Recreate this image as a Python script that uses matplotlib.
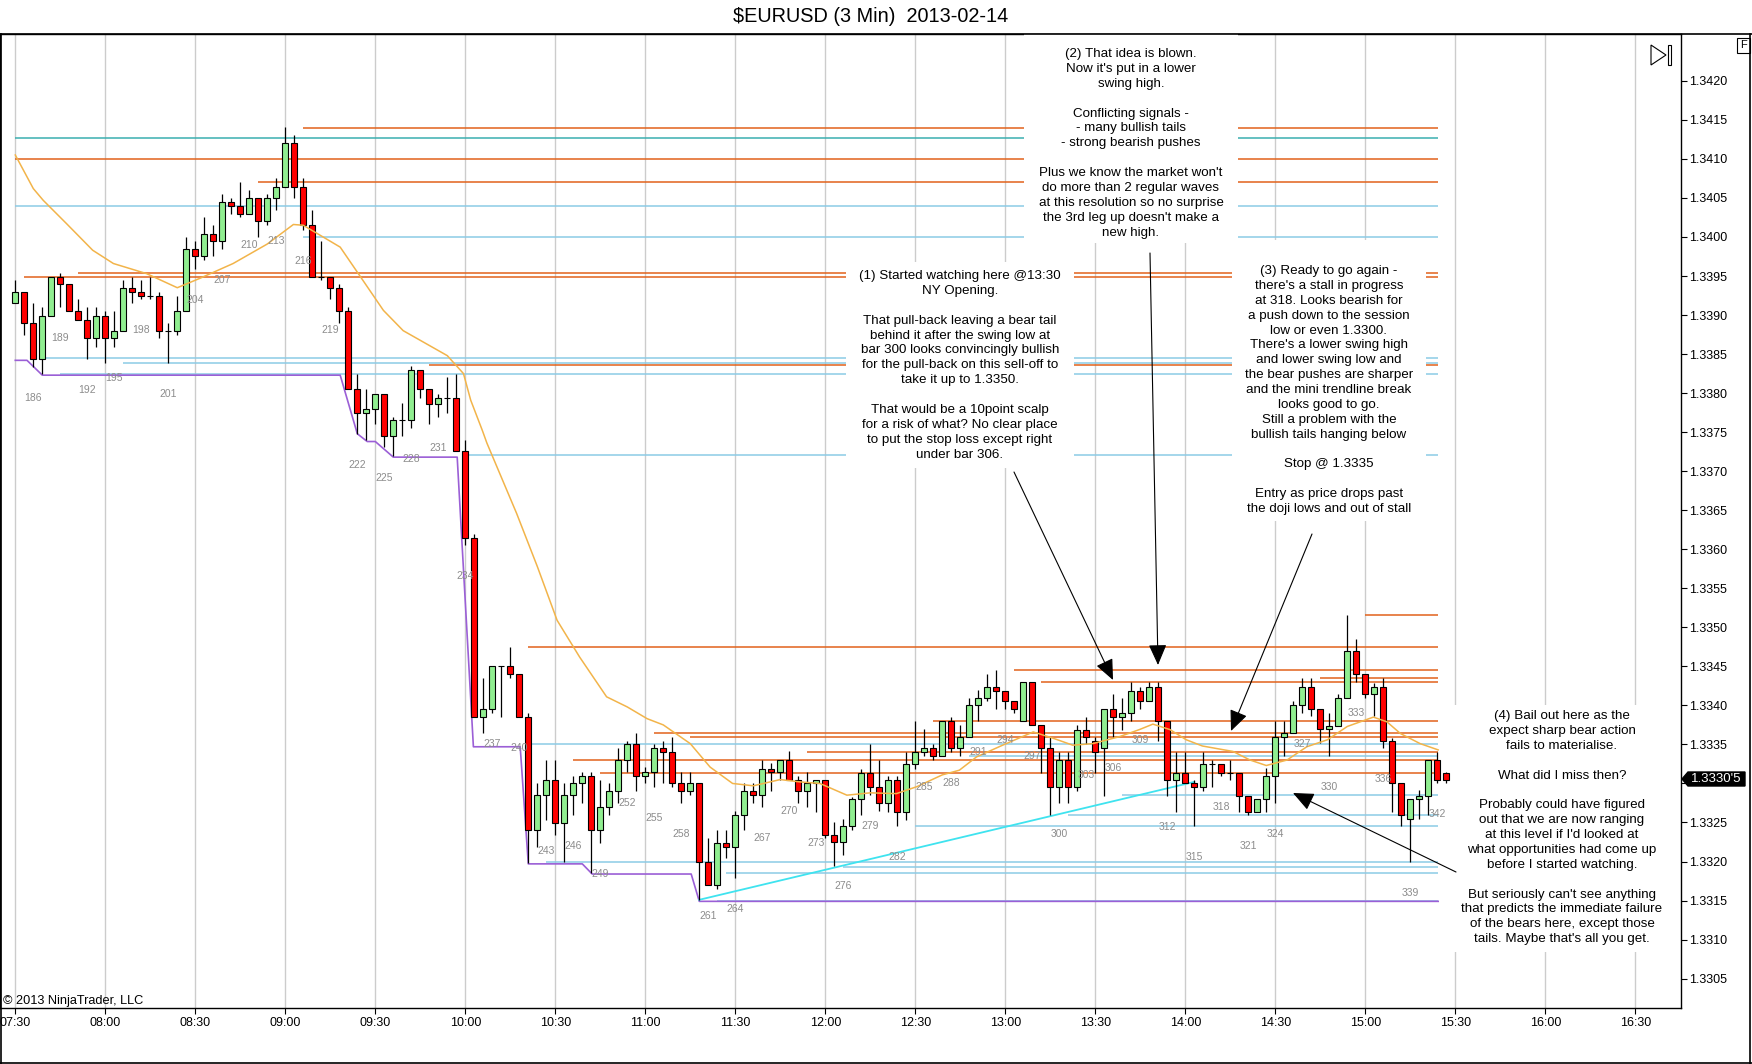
import matplotlib.pyplot as plt
import matplotlib.transforms as mtransforms
from matplotlib.lines import Line2D
from matplotlib.patches import Polygon, Rectangle

plt.rcParams["font.family"] = ["Liberation Sans", "DejaVu Sans"]

# ---- values ----
bar_no = list(range(184, 344))

opens = [
    1.33915, 1.3393, 1.3389, 1.33844, 1.33899, 1.33949, 1.3394, 1.33905, 1.33894, 1.3387,
    1.33899, 1.3387, 1.3388, 1.33935, 1.3393, 1.33924, 1.33924, 1.3388, 1.3388, 1.33905,
    1.33985, 1.33975, 1.34004, 1.33995, 1.34045, 1.3404, 1.3403, 1.3405, 1.3402, 1.3405,
    1.34064, 1.3412, 1.34064, 1.34015, 1.33949, 1.33949, 1.33935, 1.33905, 1.33805, 1.33775,
    1.3378, 1.33799, 1.33745, 1.33765, 1.33765, 1.3383, 1.33805, 1.33786, 1.33794, 1.33794,
    1.33726, 1.33615, 1.33385, 1.33395, 1.3345, 1.3345, 1.3344, 1.33385, 1.33241, 1.33285,
    1.33305, 1.33249, 1.33285, 1.333, 1.3331, 1.33241, 1.3327, 1.3329, 1.3333, 1.3335,
    1.3331, 1.33315, 1.33345, 1.3334, 1.333, 1.3329, 1.333, 1.33199, 1.3317, 1.33224,
    1.33219, 1.3326, 1.3329, 1.33285, 1.33319, 1.33315, 1.3333, 1.33304, 1.3329, 1.333,
    1.33304, 1.33234, 1.33225, 1.33245, 1.3328, 1.33314, 1.33295, 1.33275, 1.33305, 1.33264,
    1.33325, 1.3334, 1.33345, 1.33335, 1.3338, 1.33345, 1.33359, 1.334, 1.33409, 1.33424,
    1.33419, 1.33405, 1.3338, 1.3343, 1.33375, 1.33345, 1.33295, 1.3333, 1.33295, 1.33369,
    1.33354, 1.33345, 1.33395, 1.33385, 1.3339, 1.33419, 1.33405, 1.33424, 1.3338, 1.33304,
    1.33314, 1.333, 1.33295, 1.33325, 1.33325, 1.33314, 1.33314, 1.33284, 1.33264, 1.3328,
    1.3331, 1.33359, 1.33364, 1.334, 1.33424, 1.33395, 1.3337, 1.33374, 1.33409, 1.3347,
    1.3344, 1.33414, 1.33424, 1.33354, 1.333, 1.33254, 1.3328, 1.33284, 1.3333, 1.33313,
]
highs = [
    1.33945, 1.3393, 1.33915, 1.3391, 1.33949, 1.33954, 1.3394, 1.3392, 1.3391, 1.3391,
    1.33905, 1.33905, 1.33945, 1.33949, 1.33945, 1.33949, 1.3393, 1.3389, 1.33924, 1.3400,
    1.33995, 1.34025, 1.34015, 1.34055, 1.3405, 1.3407, 1.3406, 1.3405, 1.34055, 1.34075,
    1.34141, 1.3413, 1.34075, 1.34035, 1.33995, 1.33949, 1.3394, 1.3391, 1.33825, 1.33805,
    1.33799, 1.33799, 1.3377, 1.33787, 1.33835, 1.3383, 1.33805, 1.33799, 1.33821, 1.33825,
    1.3374, 1.3362, 1.33435, 1.3345, 1.3345, 1.33475, 1.3344, 1.3339, 1.333, 1.3333,
    1.3333, 1.333, 1.3331, 1.33315, 1.33315, 1.33305, 1.333, 1.33345, 1.33355, 1.33364,
    1.33321, 1.3335, 1.33355, 1.3336, 1.33315, 1.33315, 1.333, 1.3323, 1.33241, 1.33241,
    1.33265, 1.333, 1.333, 1.3333, 1.33326, 1.3333, 1.33341, 1.3331, 1.33315, 1.33304,
    1.33304, 1.3325, 1.33254, 1.33283, 1.33319, 1.33351, 1.3333, 1.3331, 1.3331, 1.3334,
    1.3338, 1.3337, 1.3335, 1.3338, 1.33385, 1.33375, 1.33409, 1.3342, 1.3344, 1.33445,
    1.33419, 1.33405, 1.3343, 1.3343, 1.33375, 1.33359, 1.3334, 1.3334, 1.33375, 1.33385,
    1.33359, 1.33395, 1.33415, 1.33409, 1.3343, 1.33424, 1.3343, 1.3343, 1.3338, 1.3334,
    1.3334, 1.33304, 1.3334, 1.3333, 1.33325, 1.3333, 1.33314, 1.33284, 1.3328, 1.3332,
    1.3338, 1.3338, 1.33405, 1.33435, 1.33435, 1.33395, 1.3339, 1.33414, 1.33516, 1.33485,
    1.3344, 1.33429, 1.33435, 1.33358, 1.333, 1.3328, 1.33291, 1.3333, 1.3334, 1.33315,
]
lows = [
    1.33915, 1.33874, 1.33834, 1.33825, 1.33899, 1.3391, 1.33905, 1.33894, 1.33844, 1.33859,
    1.33839, 1.33859, 1.3388, 1.33915, 1.3392, 1.3392, 1.3387, 1.33839, 1.33874, 1.33905,
    1.33959, 1.3397, 1.33975, 1.33985, 1.3403, 1.34025, 1.3403, 1.3400, 1.34015, 1.34035,
    1.34064, 1.3405, 1.34009, 1.33949, 1.33945, 1.3392, 1.3389, 1.33805, 1.33748, 1.3374,
    1.33761, 1.33731, 1.33719, 1.33745, 1.33755, 1.33794, 1.3376, 1.3377, 1.33775, 1.33726,
    1.33605, 1.33385, 1.33364, 1.3339, 1.33385, 1.33435, 1.33385, 1.33198, 1.33219, 1.33253,
    1.33234, 1.33199, 1.3326, 1.33275, 1.33185, 1.33224, 1.3326, 1.33275, 1.33315, 1.3329,
    1.333, 1.33295, 1.333, 1.33295, 1.33275, 1.33285, 1.33151, 1.3317, 1.33165, 1.33204,
    1.33179, 1.33241, 1.33275, 1.3327, 1.3329, 1.33304, 1.33304, 1.33275, 1.3327, 1.33264,
    1.3323, 1.33194, 1.33209, 1.33241, 1.33259, 1.33285, 1.33265, 1.33264, 1.33245, 1.33253,
    1.33319, 1.33335, 1.3333, 1.33335, 1.3334, 1.33335, 1.33359, 1.3338, 1.33405, 1.33395,
    1.33395, 1.3339, 1.3338, 1.33375, 1.33314, 1.33259, 1.33275, 1.33275, 1.3329, 1.3335,
    1.33314, 1.33284, 1.33359, 1.33369, 1.3338, 1.33395, 1.33405, 1.33354, 1.33284, 1.33264,
    1.333, 1.33245, 1.3329, 1.33295, 1.33309, 1.33304, 1.33264, 1.33259, 1.33264, 1.33264,
    1.33275, 1.33335, 1.33364, 1.3339, 1.33386, 1.33352, 1.33335, 1.33374, 1.33409, 1.3343,
    1.33409, 1.33386, 1.33345, 1.33264, 1.33245, 1.33199, 1.33254, 1.3326, 1.333, 1.333,
]
closes = [
    1.3393, 1.3389, 1.33844, 1.33899, 1.33949, 1.3394, 1.33905, 1.33894, 1.3387, 1.33899,
    1.3387, 1.3388, 1.33935, 1.3393, 1.33924, 1.33924, 1.3388, 1.3388, 1.33905, 1.33985,
    1.33975, 1.34004, 1.33995, 1.34045, 1.3404, 1.3403, 1.3405, 1.3402, 1.3405, 1.34064,
    1.3412, 1.34064, 1.34015, 1.33949, 1.33949, 1.33935, 1.33905, 1.33805, 1.33775, 1.3378,
    1.33799, 1.33745, 1.33765, 1.33765, 1.3383, 1.33805, 1.33786, 1.33794, 1.33794, 1.33726,
    1.33615, 1.33385, 1.33395, 1.3345, 1.3345, 1.3344, 1.33385, 1.33241, 1.33285, 1.33305,
    1.33249, 1.33285, 1.333, 1.3331, 1.33241, 1.3327, 1.3329, 1.3333, 1.3335, 1.3331,
    1.33315, 1.33345, 1.3334, 1.333, 1.3329, 1.333, 1.33199, 1.3317, 1.33224, 1.33219,
    1.3326, 1.3329, 1.33285, 1.33319, 1.33315, 1.3333, 1.33304, 1.3329, 1.333, 1.33304,
    1.33234, 1.33225, 1.33245, 1.3328, 1.33314, 1.33295, 1.33275, 1.33305, 1.33264, 1.33325,
    1.3334, 1.33345, 1.33335, 1.3338, 1.33345, 1.33359, 1.334, 1.33409, 1.33424, 1.33419,
    1.33405, 1.33395, 1.3343, 1.33375, 1.33345, 1.33295, 1.3333, 1.33295, 1.33369, 1.33359,
    1.3334, 1.33395, 1.33385, 1.3339, 1.33419, 1.33405, 1.33424, 1.3338, 1.33304, 1.33314,
    1.333, 1.33295, 1.33325, 1.33325, 1.33314, 1.33314, 1.33284, 1.33264, 1.3328, 1.3331,
    1.33359, 1.33364, 1.334, 1.33424, 1.33395, 1.3337, 1.33374, 1.33409, 1.3347, 1.3344,
    1.33414, 1.33424, 1.33354, 1.333, 1.3326, 1.3328, 1.33284, 1.3333, 1.33305, 1.33305,
]

time_labels = ["07:30", "08:00", "08:30", "09:00", "09:30", "10:00", "10:30", "11:00",
               "11:30", "12:00", "12:30", "13:00", "13:30", "14:00", "14:30", "15:00",
               "15:30", "16:00", "16:30"]

# moving average (orange curve), read at sample points
ema_bar = [184.0, 186.0, 187.1, 189.7, 192.6, 194.9, 198.6, 202.0, 204.5, 208.2, 212.0,
           214.9, 216.0, 220.1, 222.0, 224.9, 227.1, 232.0, 233.8, 234.6, 235.9, 236.4,
           239.7, 242.0, 244.2, 246.7, 249.7, 252.0, 254.2, 256.0, 259.0, 261.2, 263.7,
           266.0, 269.0, 271.2, 273.4, 276.4, 279.0, 281.9, 284.2, 287.0, 288.9, 290.8,
           293.7, 297.1, 299.3, 301.5, 303.7, 306.7, 308.9, 310.4, 312.3, 314.1, 315.9,
           319.3, 321.2, 323.0, 325.3, 327.5, 329.8, 332.0, 334.9, 336.4, 337.9, 340.1, 342.1]
ema_val = [1.34105, 1.34062, 1.34047, 1.34017, 1.33983, 1.33966, 1.33953, 1.33935, 1.33947,
           1.33966, 1.33991, 1.34016, 1.34015, 1.33987, 1.33955, 1.33906, 1.3388, 1.33848,
           1.33825, 1.33791, 1.33752, 1.33736, 1.33646, 1.33578, 1.33509, 1.33462, 1.33411,
           1.33398, 1.33383, 1.33375, 1.33351, 1.33321, 1.333, 1.33297, 1.33305, 1.33302,
           1.333, 1.33285, 1.33288, 1.33287, 1.33296, 1.33311, 1.33317, 1.33334, 1.33349,
           1.33366, 1.33358, 1.33349, 1.33351, 1.3336, 1.33369, 1.33376, 1.33369, 1.33356,
           1.33348, 1.33341, 1.3333, 1.33323, 1.3333, 1.33347, 1.33356, 1.33373, 1.33385,
           1.33379, 1.33364, 1.33351, 1.33343]

# purple stepped low line
floor_bar = [184, 185.3, 187.0, 220.1, 222.0, 223.1, 224.0, 226.0, 233.1, 234.9, 240.1,
             241.0, 247.0, 248.1, 259.1, 260.0, 342.1]
floor_val = [1.33842, 1.33842, 1.33823, 1.33823, 1.33748, 1.33738, 1.33738, 1.33718,
             1.33718, 1.33347, 1.33347, 1.33197, 1.33197, 1.33184, 1.33184, 1.33149, 1.33149]

# cyan trendline
trend_bar = [260, 315]
trend_val = [1.33151, 1.33302]

# horizontal levels: price and first bar
orange_levels = [1.3414, 1.3410, 1.3407, 1.33954, 1.33949, 1.33836, 1.33516, 1.33475,
                 1.33445, 1.33435, 1.3343, 1.3338, 1.33364, 1.3336, 1.3334, 1.3333, 1.33314]
orange_start = [216, 184, 211, 191, 185, 230, 334, 241, 295, 329, 298, 286, 255, 259,
                272, 246, 249]
blue_levels = [1.3404, 1.3400, 1.33845, 1.33839, 1.33825, 1.33721, 1.3335, 1.33335,
               1.33285, 1.3326, 1.33245, 1.33199, 1.33193, 1.33185, 1.33149]
blue_start = [184, 216, 187, 196, 189, 234, 241, 290, 307, 301, 284, 243, 276, 263, 262]
teal_levels = [1.34127]
teal_start = [184]
level_end = 342.1

note1 = ("(1) Started watching here @13:30\nNY Opening.\n\n"
         "That pull-back leaving a bear tail\nbehind it after the swing low at\n"
         "bar 300 looks convincingly bullish\nfor the pull-back on this sell-off to\n"
         "take it up to 1.3350.\n\n"
         "That would be a 10point scalp\nfor a risk of what? No clear place\n"
         "to put the stop loss except right\nunder bar 306.")
note2 = ("(2) That idea is blown.\nNow it's put in a lower\nswing high.\n\n"
         "Conflicting signals -\n- many bullish tails\n- strong bearish pushes\n\n"
         "Plus we know the market won't\ndo more than 2 regular waves\n"
         "at this resolution so no surprise\nthe 3rd leg up doesn't make a\nnew high.")
note3 = ("(3) Ready to go again -\nthere's a stall in progress\nat 318. Looks bearish for\n"
         "a push down to the session\nlow or even 1.3300.\nThere's a lower swing high\n"
         "and lower swing low and\nthe bear pushes are sharper\n"
         "and the mini trendline break\nlooks good to go.\nStill a problem with the\n"
         "bullish tails hanging below\n\nStop @ 1.3335\n\n"
         "Entry as price drops past\nthe doji lows and out of stall")
note4 = ("(4) Bail out here as the\nexpect sharp bear action\nfails to materialise.\n\n"
         "What did I miss then?\n\n"
         "Probably could have figured\nout that we are now ranging\n"
         "at this level if I'd looked at\nwhat opportunities had come up\n"
         "before I started watching.\n\n"
         "But seriously can't see anything\nthat predicts the immediate failure\n"
         "of the bears here, except those\ntails. Maybe that's all you get.")

# ---- figure ----
W, H = 1752, 1064
fig = plt.figure(figsize=(W / 100, H / 100), dpi=100)
px = mtransforms.Affine2D().scale(1, -1).translate(0, H)  # image pixel coords

ax = fig.add_axes([0, (H - 1008.3) / H, 1681 / W, (1008.3 - 34) / H])
ax.set_xlim(182.3, 369.08)
ax.set_ylim(1.33012, 1.34260)

ax.set_xticks([184 + 10 * i for i in range(len(time_labels))])
ax.set_xticklabels(time_labels)
ax.grid(axis="x", color="#cccccc", lw=1)
ax.set_axisbelow(True)

price_ticks = [round(1.3305 + 0.0005 * i, 4) for i in range(24)]
ax.yaxis.tick_right()
ax.set_yticks(price_ticks)
ax.set_yticklabels(["" if p == 1.333 else f"{p:.4f}" for p in price_ticks])
ax.tick_params(axis="x", direction="out", length=4, width=0.8, labelsize=9, pad=2.5)
ax.tick_params(axis="y", direction="out", length=4.3, width=0.8, labelsize=9, pad=1.2)
for sp in ax.spines.values():
    sp.set_color("black")
    sp.set_linewidth(1)

# levels and lines
ax.hlines(orange_levels, orange_start, level_end, color="#e2621b", lw=1.1, zorder=1)
ax.hlines(blue_levels, blue_start, level_end, color="#8ccbe6", lw=1.1, zorder=1)
ax.hlines(teal_levels, teal_start, level_end, color="#3aafb0", lw=1.1, zorder=1)
ax.plot(floor_bar, floor_val, color="#9b5fd6", lw=1.2, zorder=2)
ax.plot(trend_bar, trend_val, color="#3fe3ef", lw=1.3, zorder=2)

# candles
colors = ["#90ee90" if c >= o else "#ff0000" for o, c in zip(opens, closes)]
ax.vlines(bar_no, lows, highs, color="black", lw=0.9, zorder=3)
ax.bar(bar_no, [c - o for o, c in zip(opens, closes)], bottom=opens, width=0.66,
       color=colors, edgecolor="black", linewidth=0.8, zorder=3.5)
ax.plot(ema_bar, ema_val, color="#f2b44a", lw=1.1, zorder=4)

# bar numbers under every third low
for n, lo in zip(bar_no, lows):
    if (n - 186) % 3 == 0:
        ax.annotate(str(n), (n, lo), xytext=(0, -31), textcoords="offset pixels",
                    ha="center", va="center", fontsize=7.5, color="#8c8c8c", zorder=4.5)

# annotation boxes (white background covers lines and grid)
boxes = [
    ((846, 262, 1074, 468), 960, 270, note1),
    ((1024, 34, 1238, 243), 1131, 48, note2),
    ((1232, 240, 1426, 521), 1329, 265, note3),
    ((1452, 705, 1672, 952), 1562, 710, note4),
]
for (x0, y0, x1, y1), cx, top, txt in boxes:
    ax.add_patch(Rectangle((x0, y0), x1 - x0, y1 - y0, transform=px,
                           fc="white", ec="none", zorder=5))
    ax.text(cx, top, txt, transform=px, ha="center", va="top", multialignment="center",
            fontsize=9.6, linespacing=1.32, zorder=5.5)

arrows = [
    ((1014, 472), (1113, 680)),
    ((1150, 253), (1158, 665)),
    ((1312, 534), (1231, 731)),
    ((1456, 872), (1293, 793)),
]
for start, tip in arrows:
    ax.annotate("", xy=tip, xycoords=px, xytext=start, textcoords=px,
                arrowprops=dict(arrowstyle="-|>,head_length=0.8,head_width=0.35",
                                color="black", lw=0.8, shrinkA=0, shrinkB=0,
                                mutation_scale=16), zorder=6)

ax.text(3, 1000.7, "© 2013 NinjaTrader, LLC", transform=px, fontsize=9.2,
        ha="left", va="center", zorder=6)

# title and window decorations
fig.text(871, 16.7, "$EURUSD (3 Min)  2013-02-14", transform=px, fontsize=14.3,
         ha="center", va="center")

fig.add_artist(Polygon([(1682, 779), (1688, 772), (1745, 772), (1745, 786), (1688, 786)],
                       closed=True, transform=px, fc="black", ec="black"))
fig.text(1716, 779, "1.3330'5", transform=px, color="white", fontsize=9.5,
         ha="center", va="center")

fig.add_artist(Polygon([(1651, 45), (1651, 65), (1666, 55)], closed=True, transform=px,
                       fill=False, ec="black", lw=0.8))
fig.add_artist(Rectangle((1668, 45), 3, 20, transform=px, fill=False, ec="black", lw=0.8))
fig.add_artist(Rectangle((1737, 38), 13, 15, transform=px, fill=False, ec="black", lw=0.8))
fig.text(1743.5, 45.5, "F", transform=px, fontsize=8, ha="center", va="center")

for xs, ys in [([0, W], [34, 34]), ([0.5, 0.5], [34, H]),
               ([W - 2, W - 2], [34, H]), ([0, W], [H - 1.5, H - 1.5])]:
    fig.add_artist(Line2D(xs, ys, transform=px, color="black", lw=1.2))

fig.savefig("out.png", dpi=100)
